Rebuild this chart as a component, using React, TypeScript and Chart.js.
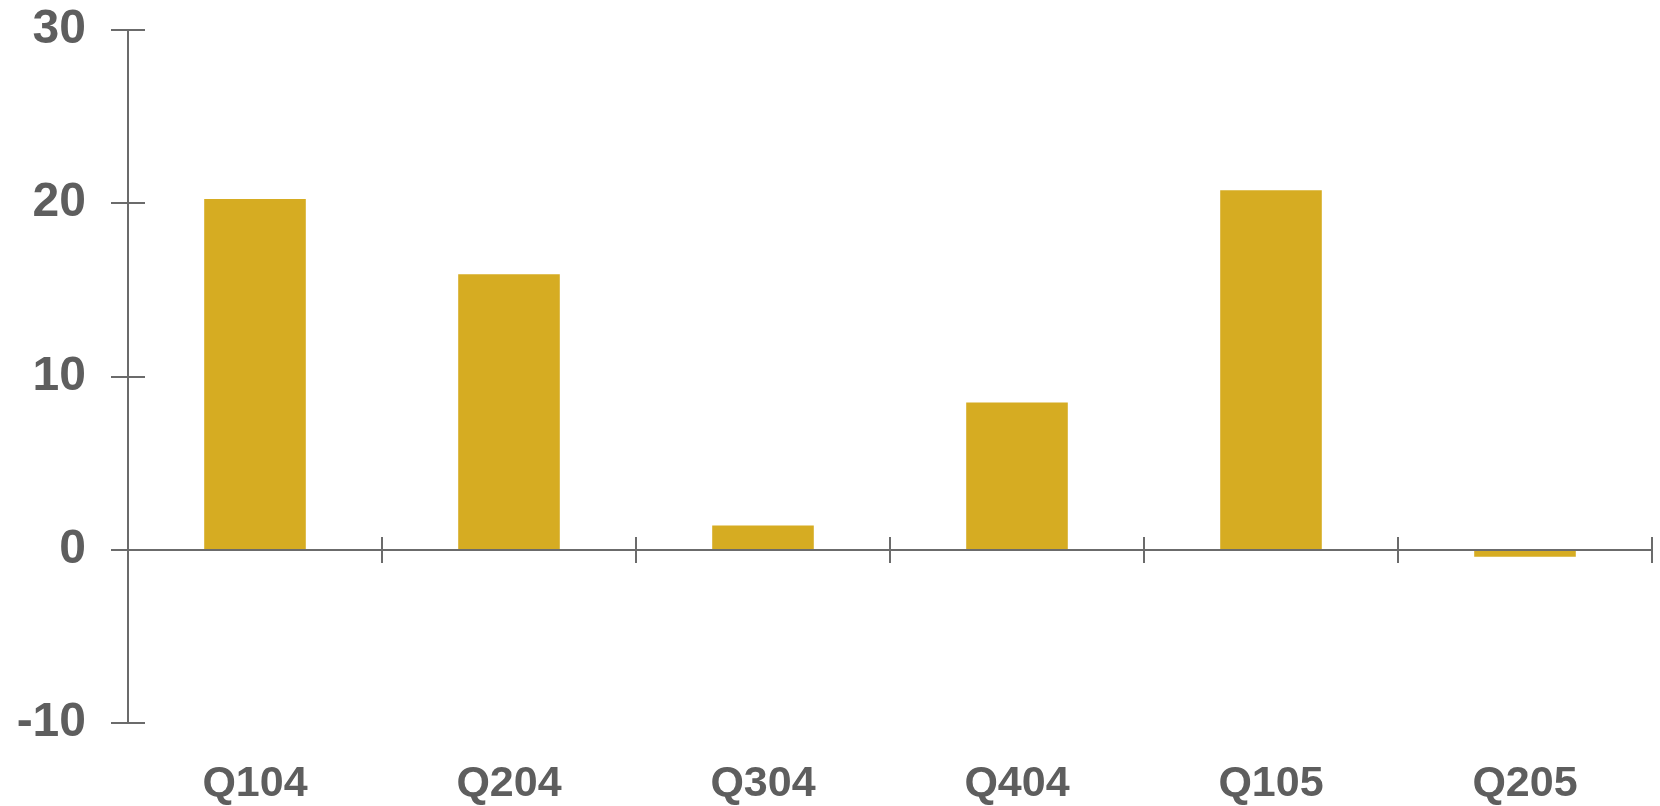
import React, { useEffect, useRef } from "react";
import { Chart, registerables } from "chart.js";

Chart.register(...registerables);

const categories = ["Q104", "Q204", "Q304", "Q404", "Q105", "Q205"];
const values = [20.25, 15.9, 1.4, 8.5, 20.75, -0.4];
const yTickValues = [-10, 0, 10, 20, 30];

const TEXT = "#5e5e5e";
const LINE = "#6b6b6b";
const BAR = "#d6ac22";
const FONT = "'Liberation Sans', Arial, sans-serif";

const axesPlugin = {
  id: "customAxes",
  afterDatasetsDraw(chart: any) {
    const { ctx, chartArea, scales } = chart;
    const x = scales.x;
    const y = scales.y;
    const left = Math.round(chartArea.left);
    const right = Math.round(chartArea.right);
    const y0 = Math.round(y.getPixelForValue(0));
    ctx.save();
    ctx.strokeStyle = LINE;
    ctx.lineWidth = 2;
    ctx.beginPath();
    ctx.moveTo(left, Math.round(y.getPixelForValue(30)));
    ctx.lineTo(left, Math.round(y.getPixelForValue(-10)));
    for (const v of yTickValues) {
      const py = Math.round(y.getPixelForValue(v));
      ctx.moveTo(left - 17, py);
      ctx.lineTo(left + 17, py);
    }
    ctx.moveTo(left, y0);
    ctx.lineTo(right, y0);
    for (let i = 1; i <= categories.length; i++) {
      const px = Math.round(x.getPixelForValue(i - 0.5));
      ctx.moveTo(px, y0 - 13);
      ctx.lineTo(px, y0 + 13);
    }
    ctx.stroke();
    ctx.restore();
  },
};

export default function App() {
  const ref = useRef<HTMLCanvasElement | null>(null);
  useEffect(() => {
    if (!ref.current) return;
    const chart = new Chart(ref.current, {
      type: "bar",
      data: {
        labels: categories,
        datasets: [
          {
            data: values,
            backgroundColor: BAR,
            borderWidth: 0,
            categoryPercentage: 1,
            barPercentage: 0.4,
          },
        ],
      },
      options: {
        animation: false,
        responsive: true,
        maintainAspectRatio: false,
        layout: { padding: { left: 0, top: 30, right: 8, bottom: 0 } },
        plugins: { legend: { display: false }, tooltip: { enabled: false } },
        scales: {
          x: {
            type: "category",
            offset: true,
            grid: { display: false, drawTicks: false },
            border: { display: false },
            ticks: {
              color: TEXT,
              padding: 35,
              maxRotation: 0,
              font: { family: FONT, size: 43, weight: "bold" },
            },
            afterFit: (s: any) => {
              s.height = 83;
              s.paddingLeft = 0;
              s.paddingRight = 0;
            },
          },
          y: {
            min: -10,
            max: 30,
            grid: { display: false, drawTicks: false },
            border: { display: false },
            ticks: {
              stepSize: 10,
              color: TEXT,
              padding: 42,
              font: { family: FONT, size: 48, weight: "bold" },
            },
            afterFit: (s: any) => {
              s.width = 128;
              s.paddingTop = 0;
              s.paddingBottom = 0;
            },
          },
        },
      },
      plugins: [axesPlugin],
    });
    return () => chart.destroy();
  }, []);
  return (
    <div style={{ position: "fixed", left: 0, top: 0, width: 1660, height: 806, background: "#fff" }}>
      <canvas ref={ref} />
    </div>
  );
}
